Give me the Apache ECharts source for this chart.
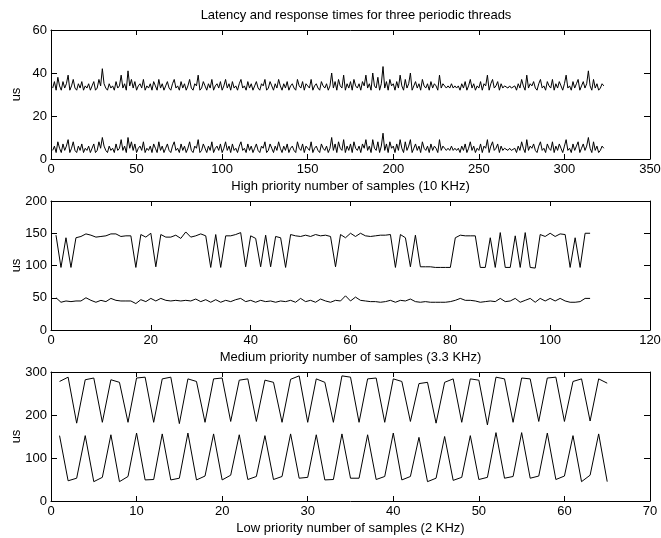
<!DOCTYPE html>
<html>
<head>
<meta charset="utf-8">
<script src="https://cdn.jsdelivr.net/npm/echarts@6/dist/echarts.min.js"></script>
<style>
  html, body { margin: 0; padding: 0; background: #fff; }
  #chart { width: 661px; height: 538px; }
</style>
</head>
<body>
<div id="chart"></div>
<script>
// high priority thread (10 KHz): latency and response time, us
const hiLat = [
  4,6,3,8,5,3,7,4,6,9,3,5,8,4,3,6,4,7,3,5,
  4,6,3,5,7,3,4,8,5,10,6,4,3,6,4,5,3,7,4,5,
  9,4,6,3,10,5,8,4,7,3,5,6,4,8,3,5,4,6,3,7,
  5,3,8,4,6,3,5,7,4,3,6,8,4,5,3,7,4,6,3,5,
  8,4,3,6,5,9,3,4,7,5,3,6,4,8,3,5,6,4,7,3,
  5,8,4,6,3,7,4,5,3,6,8,4,5,3,7,4,6,3,5,7,
  4,3,6,5,8,3,4,7,5,3,6,4,8,5,3,6,4,7,3,5,
  6,4,3,8,5,4,7,3,6,5,4,8,3,5,6,4,3,7,5,4,
  6,3,5,10,4,7,3,8,5,4,9,3,6,4,7,3,8,5,4,6,
  3,7,5,9,4,6,3,9,5,4,8,3,6,12,4,7,3,8,5,6,
  3,7,4,9,5,3,8,4,6,9,3,5,7,4,6,3,8,5,4,6,
  3,7,4,6,5,3,9,4,6,5,4,5,4,6,4,5,4,5,3,6,
  4,7,3,5,8,4,6,3,5,4,7,3,6,5,9,3,6,8,4,5,
  7,3,6,4,5,5,4,5,4,4,5,3,6,4,8,5,3,9,4,6,
  5,7,4,3,6,8,4,5,3,7,5,4,8,3,6,4,7,5,3,6,
  9,4,5,3,7,4,6,8,3,5,7,4,6,10,5,3,8,4,6,3,
  4,6,5
];
const hiResp = [
  33,36,32,38,34,32,36,33,35,39,32,34,37,33,32,35,33,36,32,34,
  33,35,32,34,36,32,33,37,34,42,35,33,32,35,33,34,32,36,33,34,
  39,33,35,32,41,34,37,33,36,32,34,35,33,37,32,34,33,35,32,36,
  34,32,37,33,35,32,34,36,33,32,35,37,33,34,32,36,33,35,32,34,
  37,33,32,35,34,39,32,33,36,34,32,35,33,37,32,34,35,33,36,32,
  34,37,33,35,32,36,33,34,32,35,37,33,34,32,36,33,35,32,34,36,
  33,32,35,34,37,32,33,36,34,32,35,33,37,34,32,35,33,36,32,34,
  35,33,32,37,34,33,36,32,35,34,33,37,32,34,35,33,32,36,34,33,
  35,32,34,40,33,36,32,37,34,33,39,32,35,33,36,32,37,34,33,35,
  32,36,34,39,33,35,32,40,34,33,38,32,35,43,33,36,32,37,34,35,
  32,36,33,39,34,32,37,33,35,40,32,34,36,33,35,32,37,34,33,35,
  32,36,33,35,34,32,39,33,35,34,33,34,33,35,33,34,33,34,32,35,
  33,36,32,34,37,33,35,32,34,33,36,32,35,34,39,32,35,37,33,34,
  36,32,35,33,34,34,33,34,33,33,34,32,35,33,37,34,32,39,33,35,
  34,36,33,32,35,37,33,34,32,36,34,33,37,32,35,33,36,34,32,35,
  39,33,34,32,36,33,35,37,32,34,36,33,35,41,34,32,37,33,35,32,
  33,35,34
];

// medium priority thread (3.3 KHz)
const medLat = [
  50,43,45,44,45,45,50,46,43,46,44,49,46,45,45,45,41,47,44,49,
  45,49,46,45,46,45,46,45,48,44,47,43,47,43,46,44,47,49,44,46,
  43,46,44,45,43,45,44,46,43,49,44,46,43,48,45,43,46,45,53,45,
  51,46,45,44,44,43,44,46,43,46,45,48,44,43,44,43,43,43,43,44,
  46,49,46,46,45,43,44,45,44,49,44,45,49,43,46,49,43,49,45,49,
  45,49,45,43,43,44,49,49
];
const medResp = [
  147,97,143,97,143,145,149,147,144,145,146,149,149,145,146,146,97,148,144,150,
  98,148,144,144,147,142,152,144,146,149,146,97,148,97,146,146,148,151,98,146,
  142,98,147,98,145,143,97,148,146,145,147,145,148,146,147,145,98,148,143,150,
  145,150,146,145,146,147,147,148,97,148,143,98,147,98,98,98,97,97,97,97,
  143,147,146,146,146,97,97,143,97,151,97,97,146,97,151,97,96,148,145,150,
  145,149,148,97,143,97,150,150
];

// low priority thread (2 KHz)
const lowLat = [
  152,47,53,152,45,55,154,45,57,158,49,50,156,49,53,158,49,58,156,49,
  60,154,50,57,152,50,57,156,53,55,154,49,50,156,53,53,154,50,57,158,
  49,57,148,45,53,150,48,55,152,50,55,159,53,57,159,53,58,158,50,58,
  152,45,60,156,45
];
const lowResp = [
  278,288,181,282,286,183,282,276,183,286,288,183,284,288,180,284,278,183,284,286,
  185,281,284,185,281,276,183,283,291,183,284,276,183,291,288,183,284,286,183,284,
  278,185,273,276,181,276,284,183,284,281,177,288,284,183,286,284,185,286,288,185,
  278,284,186,284,274
];

const xLabels = [
  "High priority number of samples (10 KHz)",
  "Medium priority number of samples (3.3 KHz)",
  "Low priority number of samples (2 KHz)"
];
const xMax = [350, 120, 70];
const xStep = [50, 20, 10];
const yMax = [60, 200, 300];
const yStep = [20, 50, 100];

const font = "'Liberation Sans', Arial, Helvetica, sans-serif";
const ink = "#000";
const fs = 13;

function pairs(arr) {
  return arr.map(function (v, i) { return [i + 1, v]; });
}

var grids = [];
var xAxes = [];
var yAxes = [];
var tops = [30, 201, 372];
for (let i = 0; i < 3; i++) {
  grids.push({
    left: 51, top: tops[i], width: 599, height: 129,
    containLabel: false, outerBoundsMode: "none",
  });
  // bottom axis with labels
  xAxes.push({
    gridIndex: i, type: "value", position: "bottom",
    min: 0, max: xMax[i], interval: xStep[i],
    name: xLabels[i], nameLocation: "middle", nameGap: 21,
    nameTextStyle: { color: ink, fontFamily: font, fontSize: fs },
    axisLine: { show: true, onZero: false, lineStyle: { color: ink, width: 1 } },
    axisTick: { show: true, inside: true, length: 5, lineStyle: { color: ink } },
    axisLabel: { color: ink, fontFamily: font, fontSize: fs, margin: 4 },
    splitLine: { show: false },
  });
  // top edge of the box
  xAxes.push({
    gridIndex: i, type: "value", position: "top",
    min: 0, max: xMax[i], interval: xStep[i],
    axisLine: { show: true, onZero: false, lineStyle: { color: ink, width: 1 } },
    axisTick: { show: true, inside: true, length: 5, lineStyle: { color: ink } },
    axisLabel: { show: false },
    splitLine: { show: false },
  });
  yAxes.push({
    gridIndex: i, type: "value", position: "left",
    min: 0, max: yMax[i], interval: yStep[i],
    name: "us", nameLocation: "middle", nameGap: 28, nameRotate: 90,
    nameMoveOverlap: false,
    nameTextStyle: { color: ink, fontFamily: font, fontSize: fs },
    axisLine: { show: true, onZero: false, lineStyle: { color: ink, width: 1 } },
    axisTick: { show: true, inside: true, length: 6, lineStyle: { color: ink } },
    axisLabel: { color: ink, fontFamily: font, fontSize: fs, margin: 4 },
    splitLine: { show: false },
  });
  yAxes.push({
    gridIndex: i, type: "value", position: "right",
    min: 0, max: yMax[i], interval: yStep[i],
    axisLine: { show: true, onZero: false, lineStyle: { color: ink, width: 1 } },
    axisTick: { show: true, inside: true, length: 6, lineStyle: { color: ink } },
    axisLabel: { show: false },
    splitLine: { show: false },
  });
}

function line(data, g) {
  return {
    type: "line",
    xAxisIndex: g * 2,
    yAxisIndex: g * 2,
    data: pairs(data),
    showSymbol: false,
    symbol: "none",
    lineStyle: { color: ink, width: 1 },
    silent: true,
  };
}

var chart = echarts.init(document.getElementById("chart"));
chart.setOption({
  animation: false,
  backgroundColor: "#fff",
  title: {
    text: "Latency and response times for three periodic threads",
    left: 351, top: 4, textAlign: "center",
    textStyle: { color: ink, fontFamily: font, fontSize: fs, fontWeight: "normal" },
  },
  grid: grids,
  xAxis: xAxes,
  yAxis: yAxes,
  series: [
    line(hiResp, 0),
    line(hiLat, 0),
    line(medResp, 1),
    line(medLat, 1),
    line(lowResp, 2),
    line(lowLat, 2),
  ],
});
</script>
</body>
</html>
